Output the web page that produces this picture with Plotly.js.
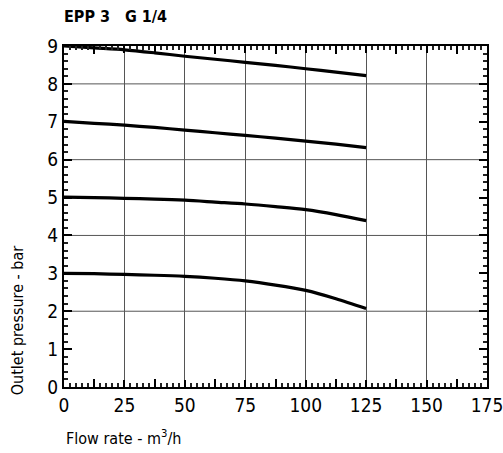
<!DOCTYPE html>
<html>
<head>
<meta charset="utf-8">
<script src="https://cdn.plot.ly/plotly-3.0.1.min.js"></script>
<style>html,body{margin:0;padding:0;background:#fff;}#chart{width:503px;height:453px;}</style>
</head>
<body>
<div id="chart"></div>
<script>
// Flow rate (m3/h)
var flow = [0, 12.5, 25, 37.5, 50, 62.5, 75, 87.5, 100, 112.5, 125];
// Outlet pressure curves (bar) for set pressures 9, 7, 5, 3
var p9 = [9.00, 8.95, 8.90, 8.82, 8.73, 8.65, 8.57, 8.49, 8.40, 8.31, 8.22];
var p7 = [7.01, 6.96, 6.91, 6.85, 6.78, 6.71, 6.64, 6.57, 6.49, 6.41, 6.32];
var p5 = [5.01, 5.00, 4.98, 4.96, 4.93, 4.88, 4.83, 4.76, 4.68, 4.55, 4.39];
var p3 = [3.00, 2.99, 2.97, 2.95, 2.92, 2.87, 2.80, 2.69, 2.55, 2.33, 2.07];

var chartTitle = 'EPP 3&nbsp;&nbsp;&nbsp;G 1/4';
var xTitle = 'Flow rate - m<sup>3</sup>/h';
var yTitle = 'Outlet pressure - bar';
var xMidTicks = [12.5, 37.5, 62.5, 87.5, 112.5, 137.5, 162.5];
var yGridVals = [2, 4, 6, 8];

var FONT = 'DejaVu Sans Condensed, DejaVu Sans, sans-serif';

function curve(y) {
  return {x: flow, y: y, mode: 'lines', type: 'scatter',
    line: {color: '#000', width: 3.2, shape: 'spline', smoothing: 0.8},
    hoverinfo: 'skip', showlegend: false};
}

var traces = [curve(p9), curve(p7), curve(p5), curve(p3),
  {x: [0], y: [0], xaxis: 'x2', yaxis: 'y', mode: 'markers',
   marker: {opacity: 0}, hoverinfo: 'skip', showlegend: false}];

var tickFont = {size: 19, family: FONT, color: '#000'};
var labFont = {size: 16, family: FONT, color: '#000'};

var gridShapes = yGridVals.map(function (v) {
  return {type: 'line', xref: 'paper', yref: 'y', x0: 0, x1: 1, y0: v, y1: v,
          line: {color: '#555', width: 1}, layer: 'below'};
});

var layout = {
  width: 503, height: 453,
  margin: {l: 64, r: 16, t: 46, b: 66},
  font: {family: FONT, color: '#000'},
  title: {text: '<b>' + chartTitle + '</b>', x: 64/503, xanchor: 'left',
          y: 1 - 16/453, yanchor: 'middle', font: {size: 16, family: FONT, color: '#000'}},
  xaxis: {range: [0, 175], dtick: 25,
    ticks: 'inside', ticklen: 7, tickcolor: '#000', tickwidth: 2,
    gridcolor: '#555',
    showline: true, linecolor: '#000', linewidth: 2, mirror: 'ticks',
    zerolinecolor: '#000', zerolinewidth: 2,
    tickfont: tickFont, ticklabeloverflow: 'allow',
    minor: {dtick: 2.5, ticks: 'inside', ticklen: 4, tickcolor: '#222', tickwidth: 2}},
  yaxis: {range: [0, 9], dtick: 1,
    ticks: 'inside', ticklen: 8, tickcolor: '#000', tickwidth: 2,
    showgrid: false,
    showline: true, linecolor: '#000', linewidth: 2, mirror: 'ticks',
    zerolinecolor: '#000', zerolinewidth: 2,
    tickfont: tickFont,
    minor: {dtick: 0.2, ticks: 'inside', ticklen: 4, tickcolor: '#222', tickwidth: 2}},
  xaxis2: {overlaying: 'x', anchor: 'y', range: [0, 175], tickmode: 'array', tickvals: xMidTicks,
    ticks: 'inside', ticklen: 8, tickcolor: '#000', tickwidth: 2, showticklabels: false,
    showgrid: false, zeroline: false, showline: false, mirror: 'ticks', side: 'bottom'},
  shapes: gridShapes,
  annotations: [
    {text: xTitle, xref: 'paper', yref: 'paper', x: 0, y: -0.148, xanchor: 'left', yanchor: 'middle',
     showarrow: false, font: labFont},
    {text: yTitle, xref: 'paper', yref: 'paper', x: -0.111, y: -0.03, xanchor: 'center', yanchor: 'bottom',
     textangle: -90, showarrow: false, font: labFont}
  ]
};

Plotly.newPlot('chart', traces, layout, {displayModeBar: false});
</script>
</body>
</html>
